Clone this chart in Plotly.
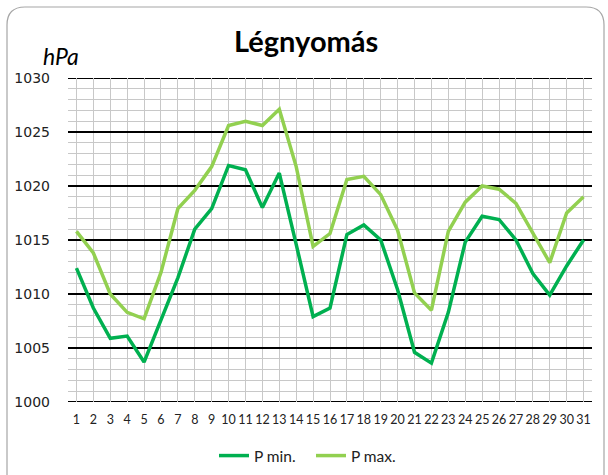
import plotly.graph_objects as go

days = list(range(1, 32))
p_min = [1012.4, 1008.7, 1005.9, 1006.1, 1003.7, 1007.7, 1011.5, 1016.0, 1017.9, 1021.9,
         1021.5, 1018.0, 1021.2, 1014.6, 1007.9, 1008.7, 1015.5, 1016.4, 1015.0, 1010.4,
         1004.6, 1003.6, 1008.3, 1014.8, 1017.2, 1016.9, 1015.0, 1011.9, 1009.9, 1012.6, 1015.0]
p_max = [1015.8, 1013.8, 1010.0, 1008.3, 1007.7, 1012.0, 1017.9, 1019.6, 1021.8, 1025.6,
         1026.0, 1025.6, 1027.1, 1021.8, 1014.4, 1015.6, 1020.6, 1020.9, 1019.2, 1015.9,
         1010.1, 1008.5, 1015.8, 1018.5, 1020.0, 1019.7, 1018.4, 1015.6, 1012.9, 1017.5, 1019.0]
series_names = ["P min.", "P max."]
title_text = "Légnyomás"
unit_text = "hPa"
y_min, y_max = 1000, 1030

W, H = 608, 475
L, R, T, B = 68, 16, 78, 73
pw, ph = W - L - R, H - T - B

def px(x):
    return (x - L) / pw

def py(y):
    return (H - B - y) / ph

FONT = "Lato"

fig = go.Figure()
fig.add_trace(go.Scatter(x=days, y=p_min, mode="lines", name=series_names[0],
                         line=dict(color="#00B050", width=3.5)))
fig.add_trace(go.Scatter(x=days, y=p_max, mode="lines", name=series_names[1],
                         line=dict(color="#92D050", width=3.5)))

# rounded chart-area frame
r = 18
x0, x1, y0 = 7, 604, 7
path = (f"M {px(x0)} {py(H+5)} L {px(x0)} {py(y0+r)} "
        f"Q {px(x0)} {py(y0)} {px(x0+r)} {py(y0)} "
        f"L {px(x1-r)} {py(y0)} Q {px(x1)} {py(y0)} {px(x1)} {py(y0+r)} "
        f"L {px(x1)} {py(H+5)}")

shapes = [dict(type="path", path=path, xref="paper", yref="paper",
               line=dict(color="#a6a6a6", width=1.2))]
for yv in (y_min, y_max):
    shapes.append(dict(type="line", xref="paper", yref="y", x0=0, x1=1, y0=yv, y1=yv,
                       line=dict(color="black", width=2.2), layer="below"))

fig.update_layout(
    width=W, height=H,
    margin=dict(l=L, r=R, t=T, b=B, autoexpand=False),
    paper_bgcolor="white", plot_bgcolor="white",
    showlegend=True,
    legend=dict(orientation="h", x=px(214), xanchor="left", y=py(456), yanchor="middle",
                font=dict(family=FONT, size=15.5, color="#222"),
                entrywidth=52, entrywidthmode="pixels",
                bgcolor="rgba(0,0,0,0)"),
    annotations=[
        dict(text=f"<b>{title_text}</b>", x=px(306), y=py(41), xref="paper", yref="paper",
             showarrow=False, font=dict(family=FONT, size=29, color="black"),
             xanchor="center", yanchor="middle"),
        dict(text=f"<i>{unit_text}</i>", x=px(61), y=py(56), xref="paper", yref="paper",
             showarrow=False, font=dict(family=FONT, size=23, color="black"),
             xanchor="center", yanchor="middle"),
    ],
    shapes=shapes,
    xaxis=dict(range=[0.5, 31.5], tickmode="array", tickvals=days,
               ticktext=[str(d) for d in days], showgrid=True, gridcolor="#c8c8c8",
               gridwidth=1, zeroline=False, showline=False, ticks="",
               ticklabelstandoff=8,
               tickfont=dict(family=FONT, size=12.5, color="#222")),
    yaxis=dict(range=[y_min, y_max], tickmode="linear", tick0=y_min, dtick=5,
               showgrid=True, gridcolor="black", gridwidth=2.2, zeroline=False,
               showline=False, ticks="", ticklabelstandoff=17,
               tickfont=dict(family="DejaVu Sans", size=14, color="#222"),
               minor=dict(dtick=1, showgrid=True, gridcolor="#c8c8c8", gridwidth=1)),
)

fig.write_html("out.html", config={"displayModeBar": False},
               post_script="document.body.style.margin='0px';")
